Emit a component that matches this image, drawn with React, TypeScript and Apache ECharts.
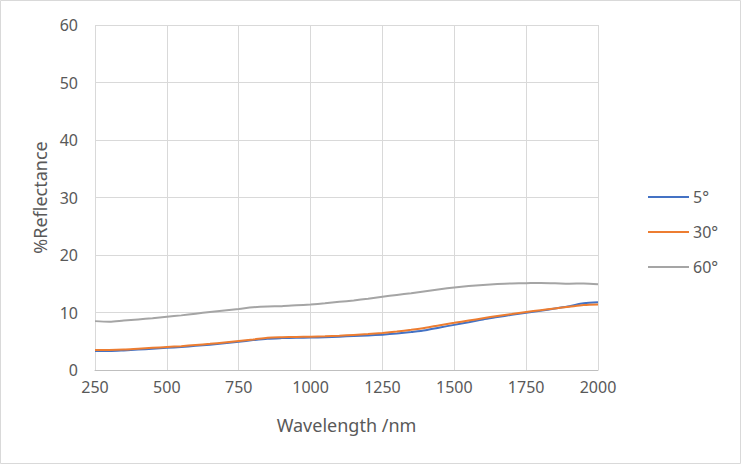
import React, { useEffect, useRef } from "react";
import * as echarts from "echarts";

const wavelengths = [250, 300, 350, 400, 450, 500, 550, 600, 650, 700, 750, 800, 850, 900, 950, 1000, 1050, 1100, 1150, 1200, 1250, 1300, 1350, 1400, 1450, 1500, 1550, 1600, 1650, 1700, 1750, 1800, 1850, 1900, 1950, 2000];
const r5 = [3.3, 3.3, 3.4, 3.55, 3.7, 3.85, 4.0, 4.2, 4.4, 4.65, 4.9, 5.2, 5.45, 5.55, 5.6, 5.65, 5.7, 5.8, 5.9, 6.0, 6.15, 6.35, 6.6, 6.9, 7.4, 7.85, 8.3, 8.8, 9.2, 9.6, 9.95, 10.3, 10.7, 11.1, 11.6, 11.8];
const r30 = [3.5, 3.5, 3.55, 3.7, 3.85, 4.0, 4.15, 4.35, 4.55, 4.8, 5.05, 5.3, 5.6, 5.7, 5.75, 5.8, 5.85, 5.95, 6.1, 6.25, 6.45, 6.7, 7.0, 7.35, 7.8, 8.2, 8.6, 9.0, 9.4, 9.75, 10.1, 10.4, 10.7, 11.0, 11.3, 11.4];
const r60 = [8.5, 8.4, 8.6, 8.8, 9.0, 9.25, 9.5, 9.8, 10.1, 10.35, 10.6, 10.9, 11.05, 11.1, 11.25, 11.4, 11.6, 11.85, 12.1, 12.4, 12.75, 13.05, 13.35, 13.7, 14.05, 14.35, 14.6, 14.8, 14.95, 15.05, 15.1, 15.15, 15.1, 15.0, 15.05, 14.9];
const seriesNames = ["5°", "30°", "60°"];
const seriesColors = ["#4472c4", "#ed7d31", "#a5a5a5"];

const FONT = "'Noto Sans', sans-serif";
const TXT = "#595959";

export default function App() {
  const ref = useRef<HTMLDivElement>(null);
  useEffect(() => {
    document.body.style.margin = "0";
    const chart = echarts.init(ref.current!, undefined, { renderer: "svg" });
    const data = [r5, r30, r60];
    chart.setOption({
      animation: false,
      backgroundColor: "#ffffff",
      textStyle: { fontFamily: FONT },
      graphic: [
        { type: "rect", shape: { x: 0.5, y: 0.5, width: 740, height: 463 }, style: { fill: "none", stroke: "#d9d9d9", lineWidth: 1 } },
      ],
      grid: { left: 95, right: 143, top: 25, bottom: 94 },
      legend: {
        orient: "vertical",
        left: 648,
        top: 189,
        padding: 0,
        itemWidth: 41,
        itemHeight: 16,
        itemGap: 19,
        icon: "path://M0,0 L41,0 L41,2.2 L0,2.2 Z",
        textStyle: { fontFamily: FONT, fontSize: 16, color: TXT, padding: [0, 0, 0, -1] },
        data: seriesNames,
      },
      xAxis: {
        type: "value",
        min: 250,
        max: 2000,
        interval: 250,
        name: "Wavelength /nm",
        nameLocation: "middle",
        nameGap: 46,
        nameTextStyle: { fontFamily: FONT, fontSize: 18, color: TXT },
        axisLine: { show: true, lineStyle: { color: "#bfbfbf", width: 1 } },
        axisTick: { show: false },
        axisLabel: { fontFamily: FONT, fontSize: 16, color: TXT, margin: 9, formatter: (v: number) => String(v) },
        splitLine: { show: true, lineStyle: { color: "#d9d9d9", width: 1 } },
      },
      yAxis: {
        type: "value",
        min: 0,
        max: 60,
        interval: 10,
        name: "%Reflectance",
        nameLocation: "middle",
        nameGap: 45,
        nameTextStyle: { fontFamily: FONT, fontSize: 18, color: TXT },
        axisLine: { show: false },
        axisTick: { show: false },
        axisLabel: { fontFamily: FONT, fontSize: 16, color: TXT, margin: 17 },
        splitLine: { show: true, lineStyle: { color: "#d9d9d9", width: 1 } },
      },
      series: seriesNames.map((n, i) => ({
        name: n,
        type: "line",
        showSymbol: false,
        symbol: "none",
        smooth: 0.3,
        data: wavelengths.map((w, j) => [w, data[i][j]]),
        lineStyle: { color: seriesColors[i], width: 2 },
        itemStyle: { color: seriesColors[i] },
      })),
    });
    return () => chart.dispose();
  }, []);
  return <div ref={ref} style={{ width: 741, height: 464 }} />;
}
